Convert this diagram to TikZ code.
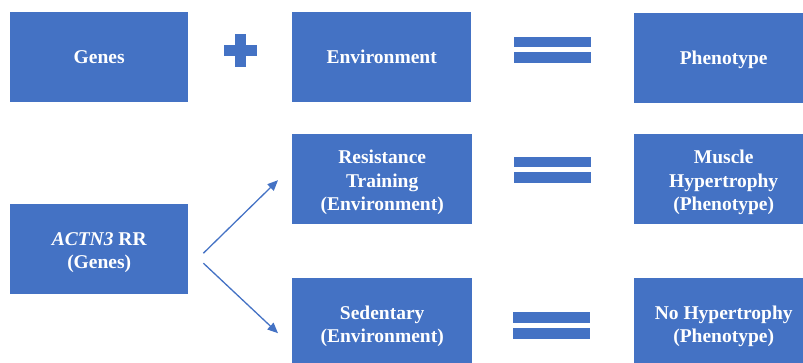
\documentclass[tikz,border=0pt]{standalone}
\usepackage{fontspec}
\setmainfont{Liberation Serif}
\usetikzlibrary{arrows.meta,calc}
\definecolor{boxblue}{RGB}{68,114,196}
\newcommand\mytopstrut{\rule{0pt}{20pt}}
\begin{document}
\begin{tikzpicture}[x=1pt,y=-1pt,
  box/.style={fill=boxblue,draw=none,text=white,font=\fontsize{19.5}{23.5}\selectfont\bfseries,align=center,minimum height=90pt,inner sep=0pt,anchor=north west},
  sym/.style={fill=boxblue},
  arr/.style={draw=boxblue,line width=1.3pt,-{Triangle[length=10.5pt,width=9pt]}}]
\useasboundingbox (0,0) rectangle (803,362);
\clip (0,0) rectangle (803,362);
\node[box,minimum width=178pt] (genes) at (10,12) {Genes};
\node[box,minimum width=179pt] (env) at (292,12) {Environment};
\node[box,minimum width=179pt] (phen) at (634,13) {\rule{0pt}{16pt}Phenotype};
\node[box,minimum width=180pt] (res) at (292,134) {\mytopstrut Resistance\\Training\\(Environment)};
\node[box,minimum width=179pt] (mus) at (634,134) {\mytopstrut Muscle\\Hypertrophy\\(Phenotype)};
\node[box,minimum width=178pt] (actn) at (10,204) {\mytopstrut\textit{ACTN3} RR\\(Genes)};
\node[box,minimum width=180pt] (sed) at (292,278) {\mytopstrut Sedentary\\(Environment)};
\node[box,minimum width=179pt] (noh) at (634,278) {\mytopstrut No Hypertrophy\\(Phenotype)};
% plus
\fill[sym] (224,45) rectangle (257,56);
\fill[sym] (235,34) rectangle (246,67);
% equals signs
\fill[sym] (514,37) rectangle (591,47);
\fill[sym] (514,52) rectangle (591,63);
\fill[sym] (514,157) rectangle (591,167);
\fill[sym] (514,172) rectangle (591,183);
\fill[sym] (513,312) rectangle (590,323);
\fill[sym] (513,328) rectangle (590,339);
% arrows
\draw[arr] ($(actn.east)+(15,4)$) -- ($(res.west)+(-14,1)$);
\draw[arr] ($(actn.east)+(15,14)$) -- ($(sed.west)+(-14,10)$);
\end{tikzpicture}
\end{document}
